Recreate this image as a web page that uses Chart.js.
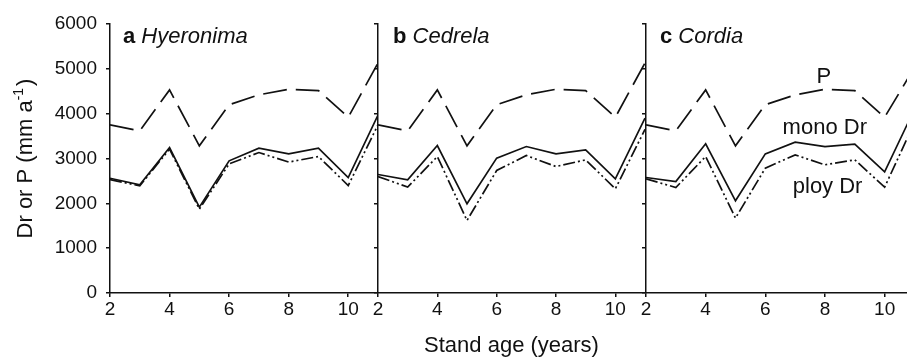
<!DOCTYPE html>
<html>
<head>
<meta charset="utf-8">
<script src="https://cdn.jsdelivr.net/npm/chart.js@4.4.1/dist/chart.umd.min.js"></script>
<style>
  body { margin: 0; background: #fff; }
  #wrap { position: relative; width: 907px; height: 363px; overflow: hidden; }
  canvas { position: absolute; top: 0; }
</style>
</head>
<body>
<div id="wrap">
  <canvas id="ca" width="378" height="363" style="left:0px"></canvas>
  <canvas id="cb" width="287" height="363" style="left:358px"></canvas>
  <canvas id="cc" width="281" height="363" style="left:626px"></canvas>
</div>
<script>
// stand age (years)
const ages = [2, 3, 4, 5, 6, 7, 8, 9, 10, 11];

// precipitation P (mm/a)
const rainAB = [3750, 3616, 4530, 3282, 4200, 4420, 4545, 4515, 3920, 5130];
const rainC  = [3750, 3616, 4530, 3282, 4200, 4420, 4545, 4515, 3920, 5030];

// drainage, mono plantations
const monoHyeronima = [2560, 2413, 3245, 1916, 2948, 3230, 3104, 3230, 2576, 3970];
const monoCedrela   = [2643, 2525, 3290, 1990, 3008, 3267, 3104, 3193, 2547, 3900];
const monoCordia    = [2576, 2487, 3327, 2057, 3104, 3364, 3267, 3320, 2700, 4100];

// drainage, poly plantations
const polyHyeronima = [2530, 2390, 3210, 1870, 2880, 3133, 2920, 3044, 2398, 3750];
const polyCedrela   = [2598, 2362, 3044, 1618, 2732, 3066, 2821, 2970, 2324, 3650];
const polyCordia    = [2547, 2353, 3044, 1671, 2785, 3081, 2859, 2970, 2360, 3800];

const yTicks = [0, 1000, 2000, 3000, 4000, 5000, 6000];

const FONT = '"Liberation Sans", Arial, Helvetica, sans-serif';
const INK = '#111';

const panelText = {
  id: 'panelText',
  afterDraw(chart, args, o) {
    const ctx = chart.ctx, area = chart.chartArea;
    ctx.save();
    ctx.fillStyle = INK;
    ctx.textBaseline = 'alphabetic';
    ctx.textAlign = 'left';
    const x0 = area.left + o.dx, y0 = area.top + 19;
    ctx.font = 'bold 22px ' + FONT;
    ctx.fillText(o.letter, x0, y0);
    const w = ctx.measureText(o.letter + ' ').width;
    ctx.font = 'italic 22px ' + FONT;
    ctx.fillText(o.genus, x0 + w, y0);

    ctx.font = '22px ' + FONT;
    (o.notes || []).forEach(n => {
      ctx.fillText(n.text, chart.scales.x.getPixelForValue(n.x), chart.scales.y.getPixelForValue(n.y));
    });

    if (o.yTitle) {
      const cy = (area.top + area.bottom) / 2;
      ctx.translate(32, cy);
      ctx.rotate(-Math.PI / 2);
      const main = 'Dr or P (mm a', sup = '-1', end = ')';
      ctx.font = '22px ' + FONT;
      const w1 = ctx.measureText(main).width, w3 = ctx.measureText(end).width;
      ctx.font = '14px ' + FONT;
      const w2 = ctx.measureText(sup).width;
      let x = -(w1 + w2 + w3 + 2) / 2;
      ctx.font = '22px ' + FONT;
      ctx.fillText(main, x, 0);
      x += w1;
      ctx.font = '14px ' + FONT;
      ctx.fillText(sup, x, -9);
      x += w2 + 2;
      ctx.font = '22px ' + FONT;
      ctx.fillText(end, x, 0);
    }
    ctx.restore();
  }
};

function makePanel(id, cfg) {
  const pts = arr => ages.map((a, i) => ({ x: a, y: arr[i] }));
  return new Chart(document.getElementById(id).getContext('2d'), {
    type: 'line',
    data: {
      datasets: [
        { label: 'P', data: pts(cfg.rain), borderColor: INK, borderWidth: 1.7, borderDash: [24, 9], pointRadius: 0, tension: 0 },
        { label: 'mono Dr', data: pts(cfg.mono), borderColor: INK, borderWidth: 1.7, pointRadius: 0, tension: 0 },
        { label: 'ploy Dr', data: pts(cfg.poly), borderColor: INK, borderWidth: 1.7, borderDash: [12, 3, 2, 3, 2, 3], pointRadius: 0, tension: 0 }
      ]
    },
    options: {
      responsive: false,
      animation: false,
      layout: { padding: { top: 24, right: 0, bottom: 0, left: 0 } },
      plugins: {
        legend: { display: false },
        tooltip: { enabled: false },
        panelText: { letter: cfg.letter, genus: cfg.genus, dx: cfg.dx, notes: cfg.notes, yTitle: cfg.yTitle }
      },
      scales: {
        x: {
          type: 'linear',
          min: 2,
          max: cfg.xMax,
          border: { color: INK, width: 1.5 },
          grid: { drawOnChartArea: false, tickLength: 4, color: INK, lineWidth: 1.5 },
          ticks: { stepSize: 2, includeBounds: false, color: INK, padding: 1, maxRotation: 0, autoSkip: false, font: { family: FONT, size: 19 } },
          title: { display: !!cfg.xTitle, text: 'Stand age (years)', color: INK, font: { family: FONT, size: 22 }, padding: { top: 0, bottom: 4 } },
          afterFit: s => { s.height = 70; }
        },
        y: {
          min: 0,
          max: 6000,
          afterBuildTicks: s => { s.ticks = yTicks.map(v => ({ value: v })); },
          border: { color: INK, width: 1.5 },
          grid: { drawOnChartArea: false, tickLength: 4, color: INK, lineWidth: 1.5 },
          ticks: { color: INK, padding: 9, font: { family: FONT, size: 19 }, callback: v => cfg.yLabels ? String(v) : '' },
          afterFit: s => { s.width = cfg.yWidth; }
        }
      }
    },
    plugins: [panelText]
  });
}

makePanel('ca', { letter: 'a', genus: 'Hyeronima', dx: 13, rain: rainAB, mono: monoHyeronima, poly: polyHyeronima, xMax: 11, yWidth: 110, yLabels: true, yTitle: true });
makePanel('cb', { letter: 'b', genus: 'Cedrela', dx: 15, rain: rainAB, mono: monoCedrela, poly: polyCedrela, xMax: 11, yWidth: 20, xTitle: true });
makePanel('cc', { letter: 'c', genus: 'Cordia', dx: 14, rain: rainC, mono: monoCordia, poly: polyCordia, xMax: 10.75, yWidth: 20,
  notes: [
    { text: 'P', x: 7.72, y: 4686 },
    { text: 'mono Dr', x: 6.58, y: 3549 },
    { text: 'ploy Dr', x: 6.92, y: 2235 }
  ] });
</script>
</body>
</html>
